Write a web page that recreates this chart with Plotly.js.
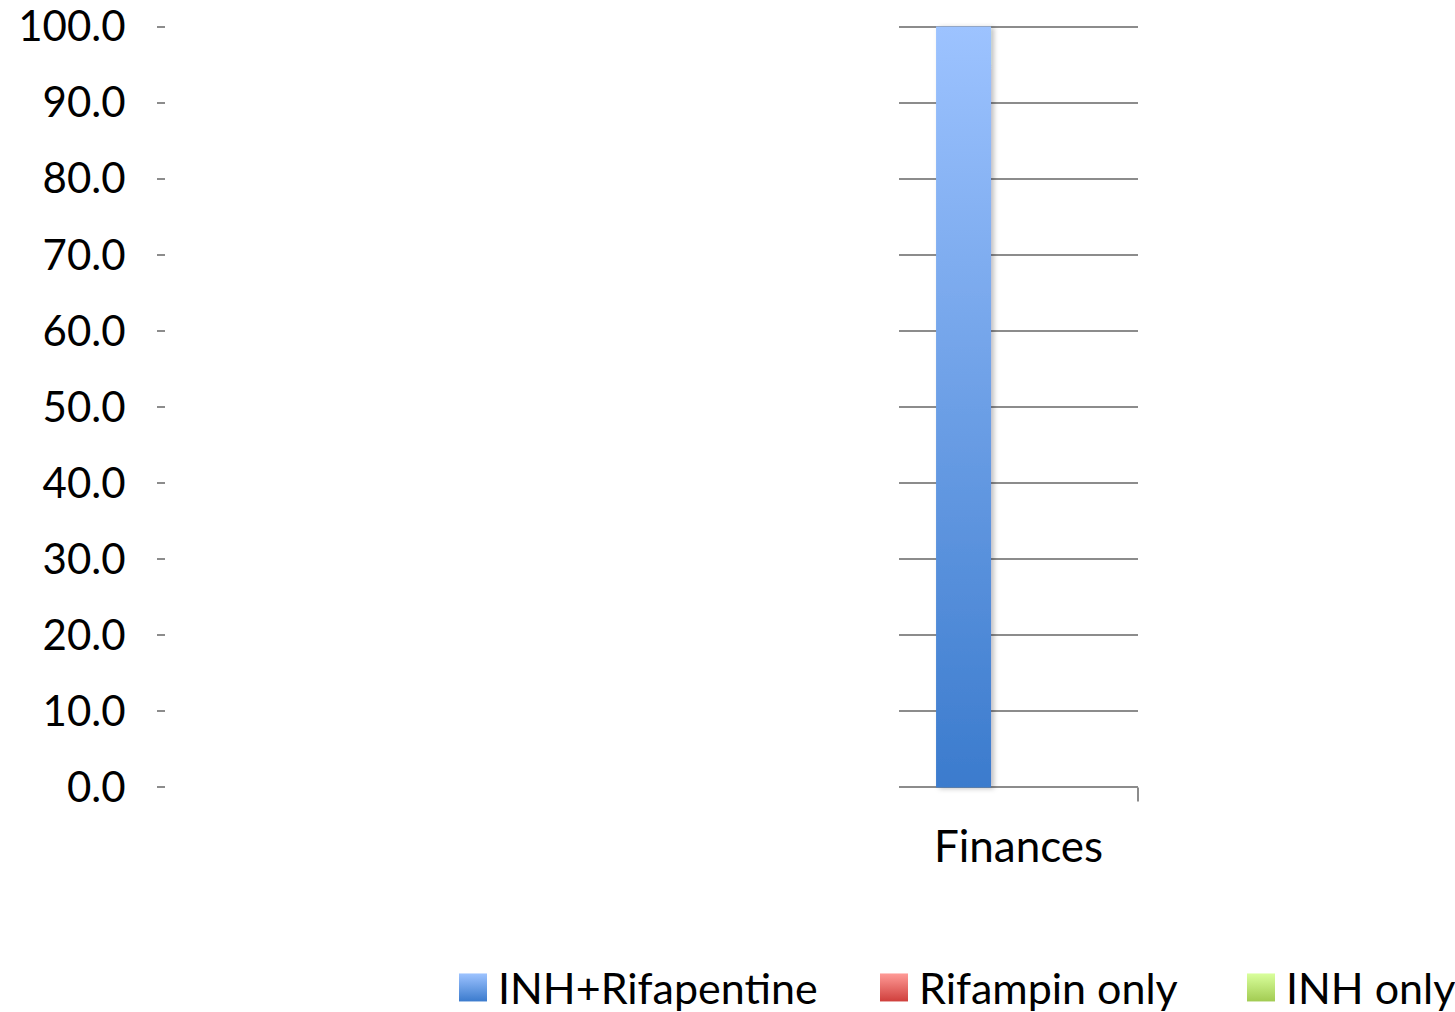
<!DOCTYPE html>
<html>
<head>
<meta charset="utf-8">
<script src="https://cdn.plot.ly/plotly-3.0.1.min.js"></script>
<style>
  html, body { margin: 0; padding: 0; background: #ffffff; }
  #chart { width: 1455px; height: 1012px; }
</style>
</head>
<body>
<div id="chart"></div>
<script>
// Categories and series values
const categories = ["Finances"];
const seriesNames = ["INH+Rifapentine", "Rifampin only", "INH only"];
const inhRifapentine = [100.0];
const rifampinOnly = [0.0];
const inhOnly = [0.0];
const yTickValues = [0, 10, 20, 30, 40, 50, 60, 70, 80, 90, 100];

// Top / bottom colours of each series' vertical gradient
const gradients = [
  { id: "gradBlue",  top: "#9dc3ff", bottom: "#3b7bcd" },
  { id: "gradRed",   top: "#ff9b97", bottom: "#cf3f3c" },
  { id: "gradGreen", top: "#d9ff9c", bottom: "#a2cb52" }
];

const FONT = "Lato, 'Open Sans', sans-serif";
const GRID = "#8c8c8c";
const W = 1455;

const seriesValues = [inhRifapentine, rifampinOnly, inhOnly];
const legendIds = ["legend", "legend2", "legend3"];
const legendLeft = [448, 869, 1236];
const legendDrop = 10; // px the legend row sits below its bottom-anchored box

const traces = seriesNames.map((name, i) => ({
  type: "bar",
  name: name,
  x: categories,
  y: seriesValues[i],
  legend: legendIds[i],
  marker: { color: gradients[i].bottom, line: { width: 0 } },
  hoverinfo: "name+y"
}));

function legendBox(left) {
  return {
    orientation: "h",
    x: left / W,
    xanchor: "left",
    xref: "container",
    y: 0,
    yanchor: "bottom",
    yref: "container",
    font: { family: FONT, size: 43, color: "#000000" },
    itemwidth: 40,
    borderwidth: 0,
    bgcolor: "rgba(0,0,0,0)"
  };
}

const layout = {
  width: 1455,
  height: 1012,
  paper_bgcolor: "#ffffff",
  plot_bgcolor: "rgba(0,0,0,0)",
  // the value range is padded by one unit at each end so the 0 and 100 grid lines are drawn
  margin: { l: 0, r: 0, t: 19.4, b: 217.4, pad: 0 },
  barmode: "group",
  bargap: 0.31,
  bargroupgap: 0,
  font: { family: FONT, size: 42, color: "#000000" },
  xaxis: {
    type: "category",
    domain: [899 / W, 1138 / W],
    showgrid: false,
    zeroline: false,
    showline: false,
    ticks: "",
    ticklabelstandoff: 22,
    tickfont: { family: FONT, size: 44, color: "#000000" },
    fixedrange: true
  },
  yaxis: {
    range: [-1, 101],
    tickvals: yTickValues,
    tickformat: ".1f",
    anchor: "free",
    position: 165 / W,
    side: "left",
    showline: false,
    zeroline: false,
    showgrid: true,
    gridcolor: GRID,
    gridwidth: 2,
    ticks: "outside",
    ticklen: 8,
    tickwidth: 2,
    tickcolor: GRID,
    ticklabelstandoff: 23,
    tickfont: { family: FONT, size: 42, color: "#000000" },
    fixedrange: true
  },
  shapes: [{
    // category boundary tick at the right end of the axis, hanging below the zero line
    type: "line",
    xref: "x domain", x0: 1, x1: 1,
    yref: "paper", ysizemode: "pixel", yanchor: 1 / 102, y0: 0, y1: -14,
    line: { color: GRID, width: 2 }
  }],
  showlegend: true,
  legend: legendBox(legendLeft[0]),
  legend2: legendBox(legendLeft[1]),
  legend3: legendBox(legendLeft[2])
};

function addGradients(gd) {
  const svg = gd.querySelector("svg.main-svg");
  const defs = svg.querySelector("defs");
  const NS = "http://www.w3.org/2000/svg";
  gradients.forEach(g => {
    const lg = document.createElementNS(NS, "linearGradient");
    lg.setAttribute("id", g.id);
    lg.setAttribute("x1", "0"); lg.setAttribute("y1", "0");
    lg.setAttribute("x2", "0"); lg.setAttribute("y2", "1");
    const s1 = document.createElementNS(NS, "stop");
    s1.setAttribute("offset", "0"); s1.setAttribute("stop-color", g.top);
    const s2 = document.createElementNS(NS, "stop");
    s2.setAttribute("offset", "1"); s2.setAttribute("stop-color", g.bottom);
    lg.appendChild(s1); lg.appendChild(s2);
    defs.appendChild(lg);
  });
  // soft shadow behind the bars
  const f = document.createElementNS(NS, "filter");
  f.setAttribute("id", "barShadow");
  f.setAttribute("x", "-20%"); f.setAttribute("y", "-5%");
  f.setAttribute("width", "150%"); f.setAttribute("height", "110%");
  const ds = document.createElementNS(NS, "feDropShadow");
  ds.setAttribute("dx", "3"); ds.setAttribute("dy", "1");
  ds.setAttribute("stdDeviation", "2.5");
  ds.setAttribute("flood-color", "#000"); ds.setAttribute("flood-opacity", "0.25");
  f.appendChild(ds);
  defs.appendChild(f);

  gd.querySelectorAll(".barlayer .trace.bars").forEach((tr, i) => {
    tr.querySelectorAll("path").forEach(p => {
      p.style.fill = "url(#" + gradients[i].id + ")";
      p.style.filter = "url(#barShadow)";
    });
  });
  // one legend per series, in series order: larger gradient swatches, row nudged down
  legendIds.forEach((id, i) => {
    const lg = gd.querySelector(".infolayer ." + id);
    if (!lg) return;
    lg.querySelectorAll(".legendpoints path").forEach(p => {
      p.setAttribute("d", "M14,14H-14V-14H14Z");
      p.style.fill = "url(#" + gradients[i].id + ")";
    });
    const t = lg.getAttribute("transform") || "";
    const m = t.match(/translate\(\s*([-\d.e]+)[ ,]+([-\d.e]+)\s*\)/);
    if (m) {
      lg.setAttribute("transform",
        "translate(" + m[1] + "," + (parseFloat(m[2]) + legendDrop) + ")");
    }
  });
}

Plotly.newPlot("chart", traces, layout, { displayModeBar: false, staticPlot: true })
  .then(addGradients);
</script>
</body>
</html>
